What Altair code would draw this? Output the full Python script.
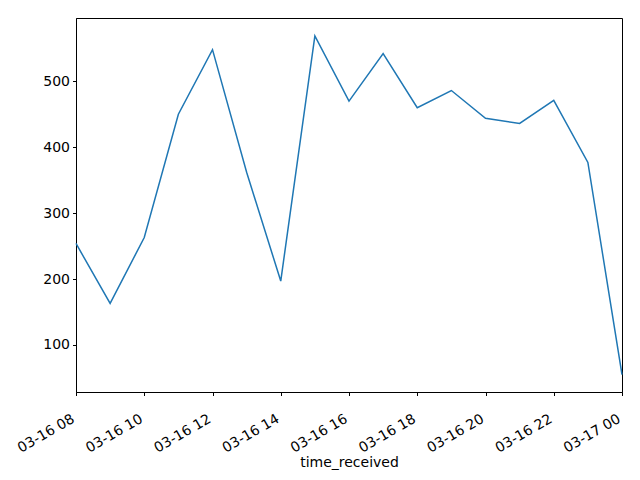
import altair as alt
import pandas as pd

times = ["2020-03-16T08:00", "2020-03-16T09:00", "2020-03-16T10:00", "2020-03-16T11:00",
         "2020-03-16T12:00", "2020-03-16T13:00", "2020-03-16T14:00", "2020-03-16T15:00",
         "2020-03-16T16:00", "2020-03-16T17:00", "2020-03-16T18:00", "2020-03-16T19:00",
         "2020-03-16T20:00", "2020-03-16T21:00", "2020-03-16T22:00", "2020-03-16T23:00",
         "2020-03-17T00:00"]
counts = [254, 163, 263, 450, 548, 362, 197, 569, 470, 542, 460, 486, 444, 436, 471, 377, 55]

tick_times = ["2020-03-16T08:00", "2020-03-16T10:00", "2020-03-16T12:00", "2020-03-16T14:00",
              "2020-03-16T16:00", "2020-03-16T18:00", "2020-03-16T20:00", "2020-03-16T22:00",
              "2020-03-17T00:00"]
y_ticks = [100, 200, 300, 400, 500]

df = pd.DataFrame({"time_received": times, "count": counts})

tick_dt = [alt.DateTime(year=int(t[0:4]), month=int(t[5:7]), date=int(t[8:10]), hours=int(t[11:13])) for t in tick_times]

chart = alt.Chart(df).mark_line(color="#1f77b4", strokeWidth=1.5).encode(
    x=alt.X("time_received:T",
            scale=alt.Scale(domain=[alt.DateTime(year=2020, month=3, date=16, hours=8),
                                    alt.DateTime(year=2020, month=3, date=17, hours=0)],
                            nice=False),
            axis=alt.Axis(values=tick_dt, format="%m-%d %H", labelAngle=-30,
                          labelAlign="right", labelBaseline="top", grid=False,
                          labelPadding=16, labelOffset=-6.5,
                          title="time_received", titlePadding=0)),
    y=alt.Y("count:Q",
            scale=alt.Scale(domain=[28.7, 596], nice=False, zero=False),
            axis=alt.Axis(values=y_ticks, grid=False, title=None, labelPadding=3)),
).properties(
    width=546, height=374,
    autosize=alt.AutoSizeParams(type="none"),
    padding={"left": 68, "top": 10, "right": 10, "bottom": 80},
).configure_view(
    stroke="black", strokeWidth=1
).configure_axis(
    domainColor="black", tickColor="black", tickSize=3.5, labelColor="black",
    labelFont="DejaVu Sans", labelFontSize=14, titleFont="DejaVu Sans",
    titleFontSize=14, titleFontWeight="normal", titleColor="black"
)

chart.save("out.html", embed_options={"renderer": "svg", "actions": False})
